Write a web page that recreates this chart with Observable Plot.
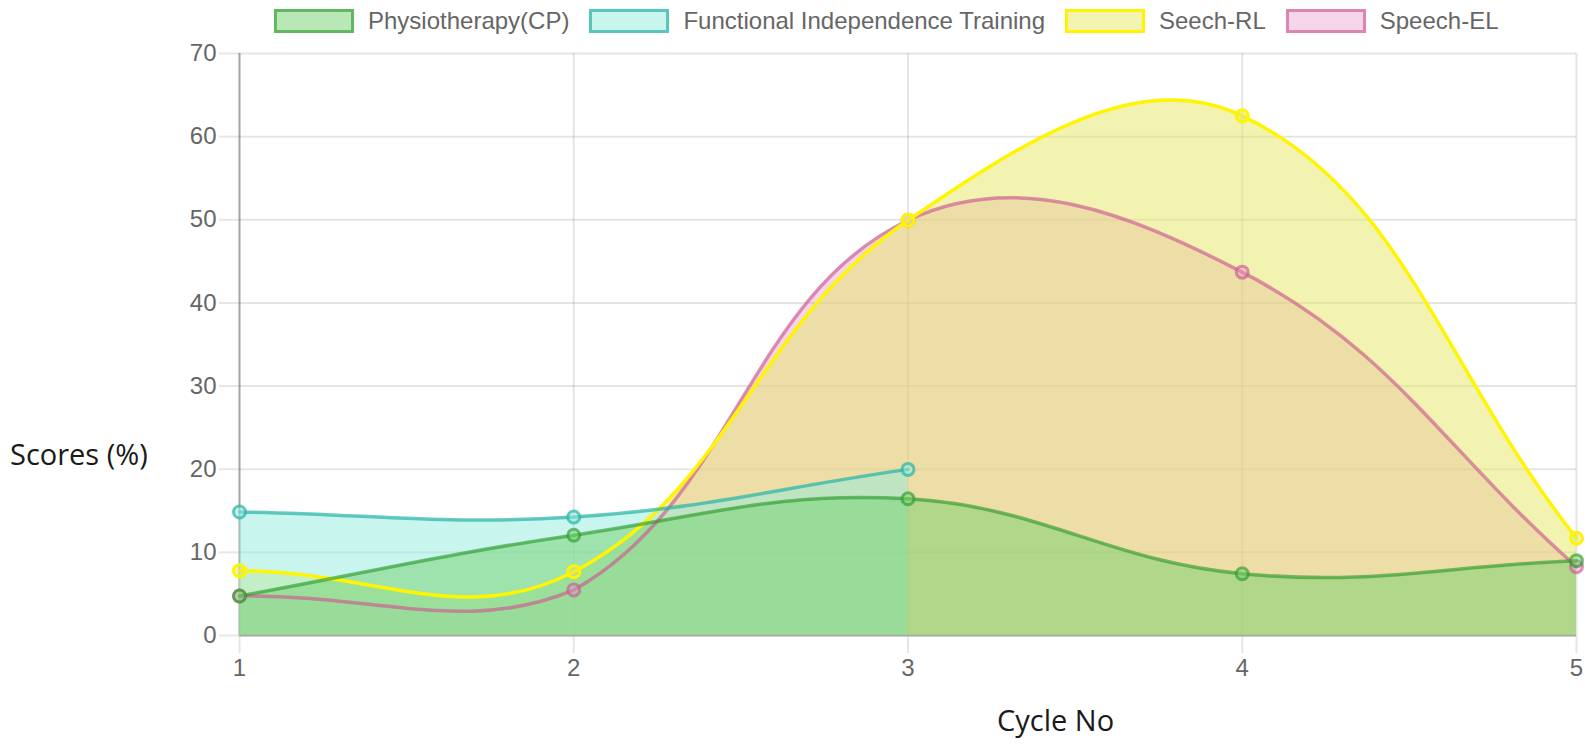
<!DOCTYPE html>
<html>
<head>
<meta charset="utf-8">
<script src="https://cdn.jsdelivr.net/npm/d3@7"></script>
<script src="https://cdn.jsdelivr.net/npm/@observablehq/plot@0.6"></script>
<style>
  html, body { margin: 0; padding: 0; background: #fff; width: 1588px; height: 748px; overflow: hidden; position: relative; }
  #legend { position: absolute; left: 274px; top: 9px; height: 24px; display: flex; align-items: center; font: 24px "Liberation Sans", Arial, sans-serif; color: #666; white-space: nowrap; }
  .item { display: flex; align-items: center; margin-right: 20px; }
  .box { width: 80px; height: 24px; box-sizing: border-box; border-width: 3px; border-style: solid; margin-right: 14px; }
  #chart { position: absolute; left: 0; top: 42px; }
  .title { position: absolute; font: 29px "Open Sans", sans-serif; line-height: 29px; color: #1a1a1a; white-space: nowrap; }
</style>
</head>
<body>
<div id="legend"></div>
<div id="chart"></div>
<div class="title" id="ylab" style="left:10px; top:439px;"></div>
<div class="title" id="xlab" style="left:997px; top:705px;"></div>
<script>
// ---- data ----
const cycles = [1, 2, 3, 4, 5];
const yTicks = [0, 10, 20, 30, 40, 50, 60, 70];
const seriesNames = ["Physiotherapy(CP)", "Functional Independence Training", "Seech-RL", "Speech-EL"];
const physiotherapy = [4.75, 12.06, 16.44, 7.43, 9.0];
const functionalIndependence = [14.86, 14.25, 19.98, null, null];
const seechRL = [7.8, 7.67, 49.94, 62.5, 11.7];
const speechEL = [4.75, 5.48, 49.94, 43.7, 8.28];
const yLabel = "Scores (%)";
const xLabel = "Cycle No";

// ---- styles ----
const lineColors = ["rgba(40,150,40,0.6)", "rgba(40,180,165,0.7)", "rgb(255,245,0)", "rgba(205,90,145,0.65)"];
const fillColors = ["rgba(115,209,109,0.5)", "rgba(145,235,221,0.5)", "rgba(230,230,100,0.5)", "rgba(230,150,200,0.4)"];
const values = [physiotherapy, functionalIndependence, seechRL, speechEL];

const W = 1588, H = 706;
const mL = 239, mR = 12, mT = 11, mB = 113;

// Chart.js-like spline (tension 0.4, distance weighted, control points capped to the chart area)
function chartjsCurve(context) {
  const t = 0.4;
  const left = mL, right = W - mR, top = mT, bottom = H - mB;
  const cap = (v, a, b) => Math.max(a, Math.min(b, v));
  let xs, ys, line;
  return {
    areaStart() { line = 0; },
    areaEnd() { line = NaN; },
    lineStart() { xs = []; ys = []; },
    point(x, y) { xs.push(+x); ys.push(+y); },
    lineEnd() {
      const n = xs.length;
      if (n) {
        line ? context.lineTo(xs[0], ys[0]) : context.moveTo(xs[0], ys[0]);
        const cp = [];
        for (let i = 0; i < n; i++) {
          const p = Math.max(0, i - 1), q = Math.min(n - 1, i + 1);
          const d01 = Math.hypot(xs[i] - xs[p], ys[i] - ys[p]);
          const d12 = Math.hypot(xs[q] - xs[i], ys[q] - ys[i]);
          let s01 = d01 / (d01 + d12), s12 = d12 / (d01 + d12);
          if (isNaN(s01)) s01 = 0;
          if (isNaN(s12)) s12 = 0;
          const fa = t * s01, fb = t * s12;
          const dx = xs[q] - xs[p], dy = ys[q] - ys[p];
          cp.push({
            px: cap(xs[i] - fa * dx, left, right), py: cap(ys[i] - fa * dy, top, bottom),
            nx: cap(xs[i] + fb * dx, left, right), ny: cap(ys[i] + fb * dy, top, bottom)
          });
        }
        for (let i = 1; i < n; i++) {
          context.bezierCurveTo(cp[i - 1].nx, cp[i - 1].ny, cp[i].px, cp[i].py, xs[i], ys[i]);
        }
      }
      if (line || (line !== 0 && n === 1)) context.closePath();
      line = 1 - line;
    }
  };
}

const datasets = seriesNames.map((name, k) => ({
  name,
  stroke: lineColors[k],
  fill: fillColors[k],
  data: cycles.map((c, i) => ({cycle: c, value: values[k][i]})).filter(d => d.value != null)
}));

// Like Chart.js: all fills first, then lines and points; first dataset on top
const areaMarks = [], lineMarks = [];
for (let k = datasets.length - 1; k >= 0; k--) {
  const ds = datasets[k];
  areaMarks.push(Plot.areaY(ds.data, {x: "cycle", y: "value", fill: ds.fill, curve: chartjsCurve}));
  lineMarks.push(
    Plot.lineY(ds.data, {x: "cycle", y: "value", stroke: ds.stroke, strokeWidth: 3.5, curve: chartjsCurve}),
    Plot.dot(ds.data, {x: "cycle", y: "value", r: 6, stroke: ds.stroke, fill: ds.fill, strokeWidth: 3})
  );
}

const chart = Plot.plot({
  width: W,
  height: H,
  marginLeft: mL, marginRight: mR, marginTop: mT, marginBottom: mB,
  style: {fontFamily: "'Liberation Sans', Arial, sans-serif", background: "#fff", overflow: "visible"},
  x: {domain: [1, 5], ticks: cycles, label: null},
  y: {domain: [0, 70], ticks: yTicks, label: null},
  marks: [
    Plot.gridX(cycles, {stroke: "#000", strokeOpacity: 0.1, strokeWidth: 2}),
    Plot.gridY(yTicks, {stroke: "#000", strokeOpacity: 0.1, strokeWidth: 2}),
    Plot.axisX(cycles, {tickSize: 18, tickPadding: 5, fontSize: 24, fill: "#666", stroke: "#e6e6e6", strokeWidth: 2, tickFormat: d => String(d), label: null}),
    Plot.axisY(yTicks, {tickSize: 20, tickPadding: 3, fontSize: 24, fill: "#666", stroke: "#e6e6e6", strokeWidth: 2, tickFormat: d => String(d), label: null}),
    Plot.ruleX([1], {stroke: "#000", strokeOpacity: 0.28, strokeWidth: 2}),
    Plot.ruleY([0], {stroke: "#000", strokeOpacity: 0.28, strokeWidth: 2}),
    ...areaMarks,
    ...lineMarks
  ]
});
document.getElementById("chart").appendChild(chart);

// legend
const legend = document.getElementById("legend");
datasets.forEach(ds => {
  const item = document.createElement("div");
  item.className = "item";
  const box = document.createElement("div");
  box.className = "box";
  box.style.background = ds.fill;
  box.style.borderColor = ds.stroke;
  const label = document.createElement("span");
  label.textContent = ds.name;
  item.appendChild(box);
  item.appendChild(label);
  legend.appendChild(item);
});
document.getElementById("ylab").textContent = yLabel;
document.getElementById("xlab").textContent = xLabel;
</script>
</body>
</html>
